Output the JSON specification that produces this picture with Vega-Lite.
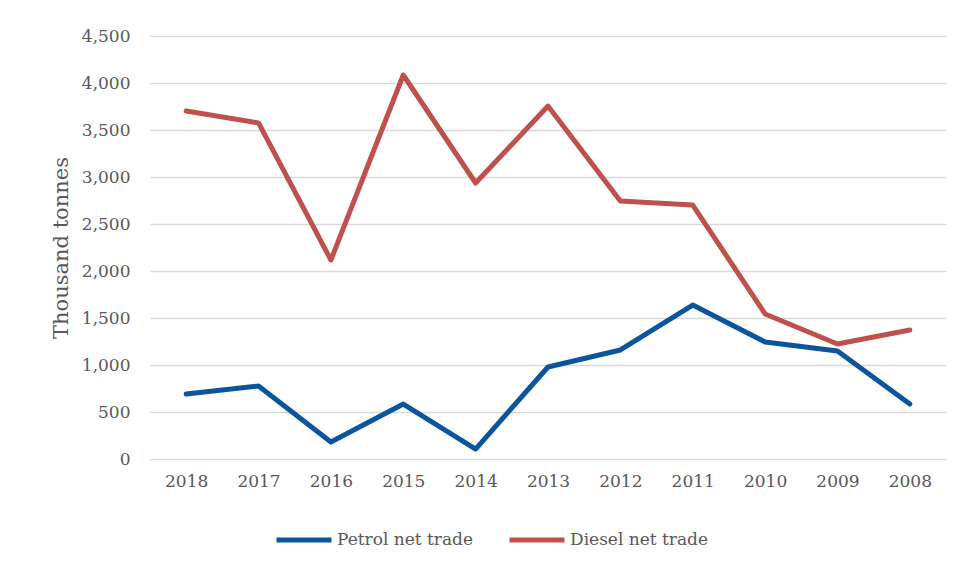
{
  "$schema": "https://vega.github.io/schema/vega-lite/v6.json",
  "width": 796,
  "height": 423,
  "autosize": {"type": "none"},
  "padding": {"left": 150, "top": 36, "right": 17, "bottom": 113},
  "background": "white",
  "config": {
    "view": {"stroke": null},
    "font": "DejaVu Serif",
    "style": {"guide-label": {"font": "DejaVu Serif", "fill": "#595959"}, "guide-title": {"font": "DejaVu Serif"}},
    "axis": {"labelFont": "DejaVu Serif", "titleFont": "DejaVu Serif", "labelColor": "#595959", "titleColor": "#595959"},
    "legend": {"labelFont": "DejaVu Serif", "labelColor": "#595959"}
  },
  "data": {
    "values": [
      {"year": "2018", "series": "Petrol net trade", "value": 691},
      {"year": "2017", "series": "Petrol net trade", "value": 777},
      {"year": "2016", "series": "Petrol net trade", "value": 181},
      {"year": "2015", "series": "Petrol net trade", "value": 585},
      {"year": "2014", "series": "Petrol net trade", "value": 106},
      {"year": "2013", "series": "Petrol net trade", "value": 979},
      {"year": "2012", "series": "Petrol net trade", "value": 1160},
      {"year": "2011", "series": "Petrol net trade", "value": 1638},
      {"year": "2010", "series": "Petrol net trade", "value": 1245},
      {"year": "2009", "series": "Petrol net trade", "value": 1149},
      {"year": "2008", "series": "Petrol net trade", "value": 585},
      {"year": "2018", "series": "Diesel net trade", "value": 3702},
      {"year": "2017", "series": "Diesel net trade", "value": 3575},
      {"year": "2016", "series": "Diesel net trade", "value": 2117},
      {"year": "2015", "series": "Diesel net trade", "value": 4085},
      {"year": "2014", "series": "Diesel net trade", "value": 2936},
      {"year": "2013", "series": "Diesel net trade", "value": 3755},
      {"year": "2012", "series": "Diesel net trade", "value": 2745},
      {"year": "2011", "series": "Diesel net trade", "value": 2702},
      {"year": "2010", "series": "Diesel net trade", "value": 1543},
      {"year": "2009", "series": "Diesel net trade", "value": 1223},
      {"year": "2008", "series": "Diesel net trade", "value": 1372}
    ]
  },
  "mark": {"type": "line", "strokeWidth": 5, "strokeCap": "round", "strokeJoin": "round"},
  "encoding": {
    "x": {
      "field": "year",
      "type": "ordinal",
      "sort": "descending",
      "scale": {"type": "point", "padding": 0.5},
      "axis": {"title": null, "labelAngle": 0, "ticks": false, "domain": false, "grid": false, "labelFontSize": 17, "labelPadding": 14}
    },
    "y": {
      "field": "value",
      "type": "quantitative",
      "scale": {"domain": [0, 4500], "nice": false},
      "axis": {
        "title": "Thousand tonnes",
        "values": [0, 500, 1000, 1500, 2000, 2500, 3000, 3500, 4000, 4500],
        "format": ",d",
        "ticks": false,
        "domain": false,
        "gridColor": "#d9d9d9",
        "gridWidth": 1.5,
        "labelFontSize": 17,
        "labelPadding": 20,
        "titleFontSize": 21,
        "titleFontWeight": "normal",
        "titlePadding": 10
      }
    },
    "color": {
      "field": "series",
      "type": "nominal",
      "scale": {"domain": ["Petrol net trade", "Diesel net trade"], "range": ["#0B559F", "#C0504D"]},
      "legend": {
        "title": null,
        "orient": "none",
        "direction": "horizontal",
        "legendX": 124,
        "legendY": 474,
        "symbolType": "stroke",
        "symbolSize": 3025,
        "symbolStrokeWidth": 5,
        "labelFont": "DejaVu Serif",
        "labelFontSize": 17,
        "labelColor": "#595959",
        "labelOffset": 3,
        "columnPadding": 25
      }
    }
  }
}
